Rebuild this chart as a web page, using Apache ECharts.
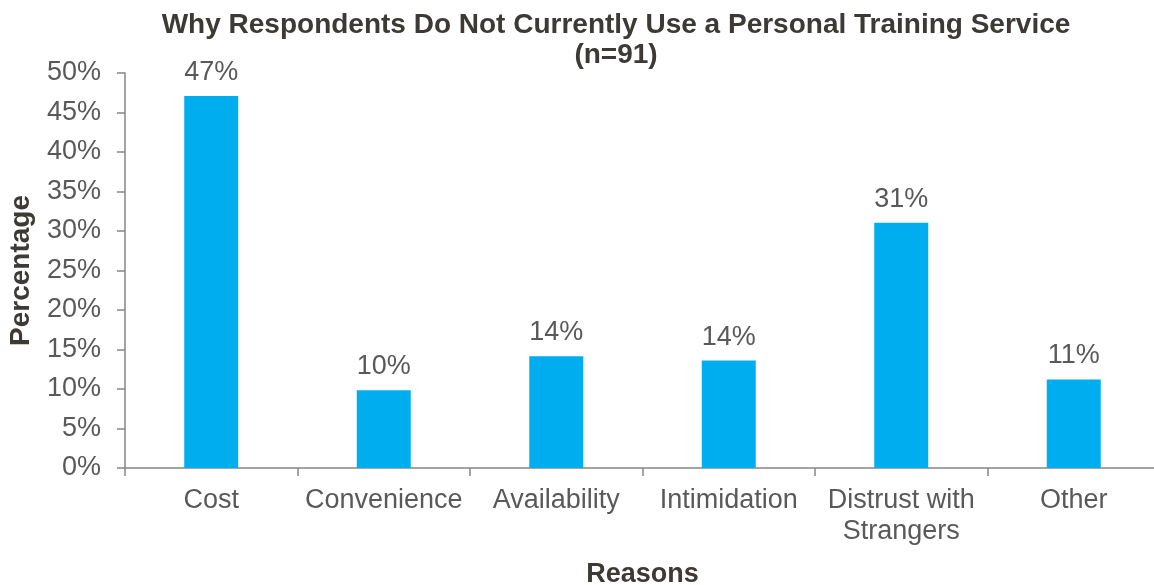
<!DOCTYPE html>
<html>
<head>
<meta charset="utf-8">
<script src="https://cdn.jsdelivr.net/npm/echarts@6/dist/echarts.min.js"></script>
<style>
  html, body { margin: 0; padding: 0; background: #fff; }
  #chart { width: 1154px; height: 585px; }
</style>
</head>
<body>
<div id="chart"></div>
<script>
// reasons and share of respondents (%)
const reasons = ['Cost', 'Convenience', 'Availability', 'Intimidation', 'Distrust with\nStrangers', 'Other'];
const shares = [47.1, 9.85, 14.15, 13.6, 31.05, 11.2];
const yTicks = [0, 5, 10, 15, 20, 25, 30, 35, 40, 45, 50];

const font = 'Liberation Sans, Arial, sans-serif';
const textGray = '#595959';
const titleColor = '#3d3a36';
const axisGray = '#868686';

const chart = echarts.init(document.getElementById('chart'));
chart.setOption({
    animation: false,
    backgroundColor: '#fff',
    title: {
        text: 'Why Respondents Do Not Currently Use a Personal Training Service\n(n=91)',
        left: 611,
        top: 5,
        textAlign: 'center',
        textStyle: {
            color: titleColor,
            fontFamily: font,
            fontWeight: 'bold',
            fontSize: 28,
            lineHeight: 30
        }
    },
    grid: {
        left: 125,
        right: -6,
        top: 73,
        bottom: 117,
        containLabel: false,
        outerBoundsMode: 'none'
    },
    xAxis: {
        type: 'category',
        data: reasons,
        name: 'Reasons',
        nameLocation: 'middle',
        nameGap: 93,
        nameTextStyle: {
            color: titleColor,
            fontFamily: font,
            fontWeight: 'bold',
            fontSize: 27
        },
        axisLine: { lineStyle: { color: axisGray, width: 1.5 } },
        axisTick: { show: true, length: 8, lineStyle: { color: axisGray, width: 1.5 } },
        axisLabel: {
            color: textGray,
            fontFamily: font,
            fontSize: 27,
            lineHeight: 31,
            margin: 17,
            interval: 0
        }
    },
    yAxis: {
        type: 'value',
        min: yTicks[0],
        max: yTicks[yTicks.length - 1],
        interval: 5,
        name: 'Percentage',
        nameLocation: 'middle',
        nameGap: 90,
        nameTextStyle: {
            color: titleColor,
            fontFamily: font,
            fontWeight: 'bold',
            fontSize: 28
        },
        splitLine: { show: false },
        axisLine: { show: true, lineStyle: { color: axisGray, width: 1.5 } },
        axisTick: { show: true, length: 8, lineStyle: { color: axisGray, width: 1.5 } },
        axisLabel: {
            color: textGray,
            fontFamily: font,
            fontSize: 27,
            margin: 24,
            formatter: v => v + '%'
        }
    },
    series: [{
        type: 'bar',
        data: shares,
        barWidth: 54,
        itemStyle: { color: '#00aeef' },
        label: {
            show: true,
            position: 'top',
            distance: 10,
            color: textGray,
            fontFamily: font,
            fontSize: 27,
            formatter: p => Math.round(p.value) + '%'
        }
    }]
});
</script>
</body>
</html>
